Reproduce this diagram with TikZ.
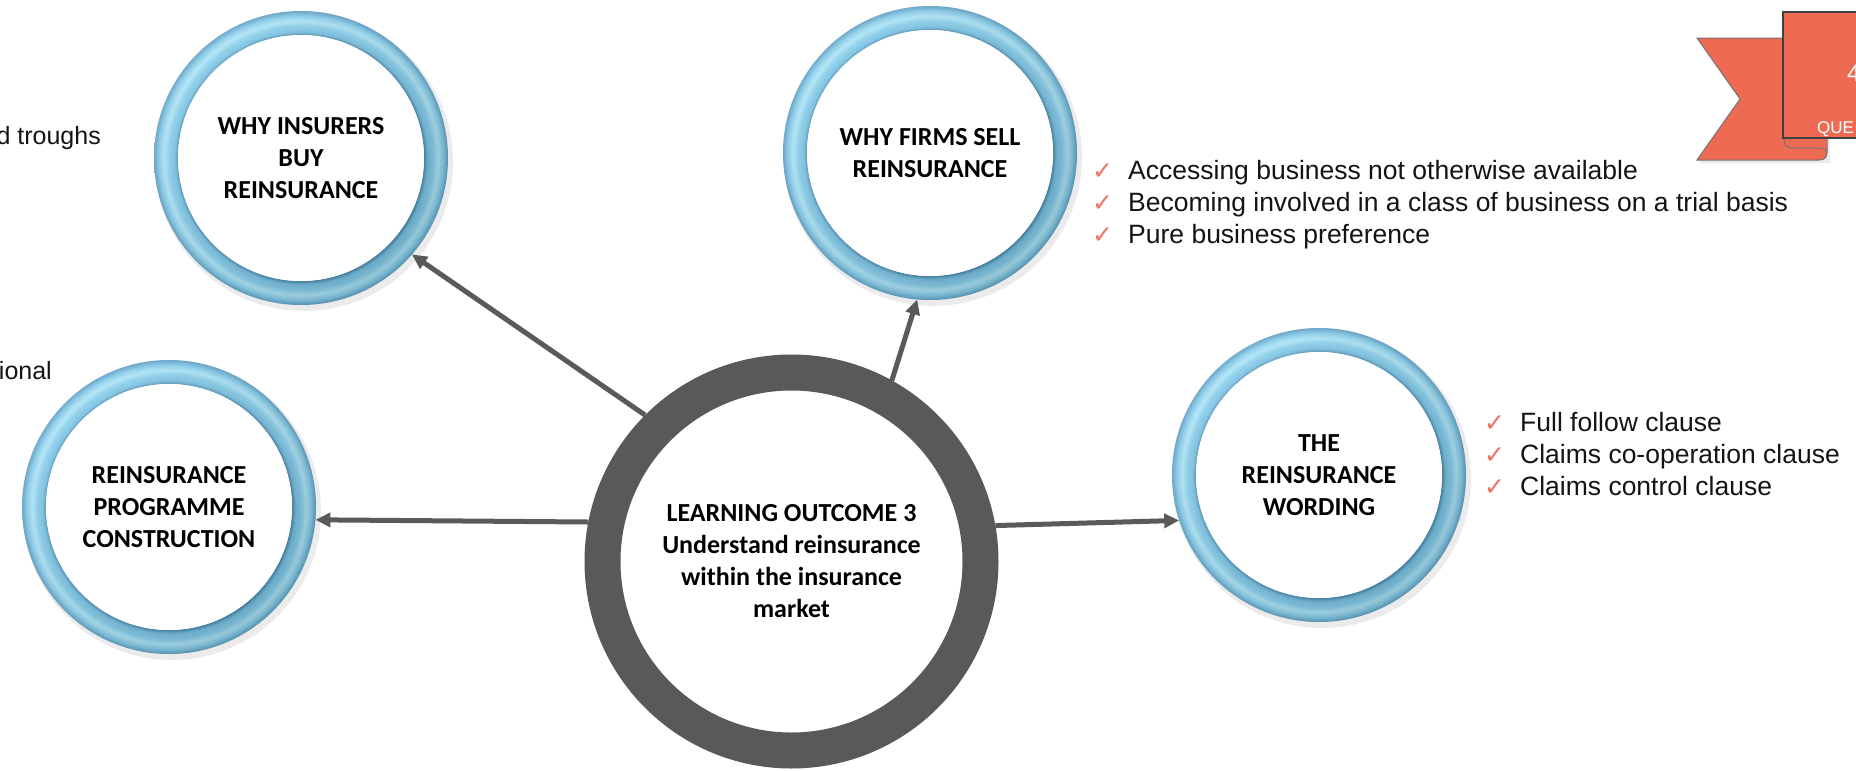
\documentclass[tikz,border=0pt]{standalone}
\usepackage{fontspec}
\setmainfont{Liberation Sans}
\newfontfamily\calibrifont{Carlito}
\newfontfamily\checkfnt{DejaVu Sans}
\usetikzlibrary{arrows.meta}
\definecolor{ringgray}{HTML}{595959}
\definecolor{arrowgray}{HTML}{5A5A5A}
\definecolor{coral}{HTML}{EE6A53}
\definecolor{checkred}{HTML}{F07264}
\definecolor{tubeD}{HTML}{4A8AB0}
\definecolor{tubeB}{HTML}{76C0E2}
\definecolor{tubeM}{HTML}{88CFEC}
\definecolor{tubeL}{HTML}{ADE5F8}
\definecolor{tubeO}{HTML}{84CBE9}
\definecolor{tubeE}{HTML}{5E9FC5}
\pgfdeclareradialshading{tube}{\pgfpoint{0bp}{0bp}}{color(0bp)=(tubeD); color(20.9bp)=(tubeD); color(21.5bp)=(tubeB); color(22.5bp)=(tubeM); color(23.3bp)=(tubeL); color(24.2bp)=(tubeO); color(25bp)=(tubeE); color(50bp)=(tubeE)}
\newcommand\tubering[1]{%
  \fill[black, opacity=0.08, even odd rule] ([shift={(3pt,-4pt)}]#1) circle (149pt) ([shift={(3pt,-4pt)}]#1) circle (124pt);
  \shade[shading=tube, even odd rule] (#1) circle (147pt) (#1) circle (123pt);
  \shade[even odd rule, fill opacity=0.13, top color=white, bottom color=black, shading angle=45] (#1) circle (147pt) (#1) circle (123pt);
  \fill[white] (#1) circle (123pt);
}
\tikzset{
  bluering/.style={circle, minimum size=294pt, inner sep=0pt, outer sep=0pt, align=center,
    font=\fontsize{26}{32}\selectfont\calibrifont\bfseries},
  hub/.style={circle, minimum size=414pt, inner sep=0pt, outer sep=0pt, align=center,
    font=\fontsize{26}{32}\selectfont\calibrifont\bfseries},
  link/.style={draw=arrowgray, line width=5pt, -{Triangle[length=15pt,width=14pt]}},
  item/.style={anchor=base west, inner sep=0pt, text=black!92, font=\fontsize{26.5}{32}\selectfont},
  tick/.style={anchor=base west, inner sep=0pt, text=checkred, font=\fontsize{25}{32}\selectfont\checkfnt},
  cut/.style={anchor=base east, inner sep=0pt, text=black!92, font=\fontsize{25}{32}\selectfont},
  ribtext/.style={anchor=base west, inner sep=0pt, text=white},
}
\begin{document}
\begin{tikzpicture}[x=1pt, y=-1pt]
\useasboundingbox (0,0) rectangle (1856,771);
\fill[white] (0,0) rectangle (1856,771);
\clip (0,0) rectangle (1856,771);

% ring centres
\coordinate (cbuy) at (301,158);
\coordinate (csell) at (930,153);
\coordinate (cprog) at (169,507);
\coordinate (cword) at (1319,475);
\coordinate (chub) at (791.5,561.5);

% rings
\tubering{cbuy}
\tubering{csell}
\tubering{cprog}
\tubering{cword}
\draw[ringgray, line width=36pt] (chub) circle (189pt);

% nodes
\node[bluering] (buy) at (cbuy) {WHY INSURERS\\BUY\\REINSURANCE};
\node[bluering] (sell) at (csell) {WHY FIRMS SELL\\REINSURANCE};
\node[bluering] (prog) at (cprog) {REINSURANCE\\PROGRAMME\\CONSTRUCTION};
\node[bluering] (word) at (cword) {THE\\REINSURANCE\\WORDING};
\node[hub] (hub) at (chub) {LEARNING OUTCOME 3\\Understand reinsurance\\within the insurance\\market};

% connectors
\draw[link] (hub.135.8) -- (buy.-41.2);
\draw[link] (hub.61.6) -- (sell.265.3);
\draw[link] (hub.169) -- (prog.-5);
\draw[link] (hub.10.6) -- (word.198);

% list next to WHY FIRMS SELL
\node[tick] (k1) at (1092,179) {✓};
\node[item] (s1) at (1128,179) {Accessing business not otherwise available};
\node[tick] (k2) at (1092,211) {✓};
\node[item] (s2) at (1128,211) {Becoming involved in a class of business on a trial basis};
\node[tick] (k3) at (1092,243) {✓};
\node[item] (s3) at (1128,243) {Pure business preference};

% list next to THE REINSURANCE WORDING
\node[tick] (k4) at (1484,431) {✓};
\node[item] (w1) at (1520,431) {Full follow clause};
\node[tick] (k5) at (1484,463) {✓};
\node[item] (w2) at (1520,463) {Claims co-operation clause};
\node[tick] (k6) at (1484,495) {✓};
\node[item] (w3) at (1520,495) {Claims control clause};

% cut-off texts at left edge
\node[cut] (c1) at (101,144) {d troughs};
\node[cut] (c2) at (52,379) {ional};

% ribbon top right
\fill[black, opacity=0.08] (1699,41) -- (1830,41) -- (1830,163) -- (1699,163) -- (1742,102) -- cycle;
\filldraw[fill=coral, draw=black!55, line width=1pt]
  (1697,38) -- (1800,38) -- (1800,138) -- (1827,138) -- (1827,152)
  .. controls (1827,158) and (1824,160) .. (1819,160) -- (1697,160) -- (1740,99) -- cycle;
\draw[black!55, line width=1pt] (1784,138) .. controls (1784,146) and (1787,148) .. (1795,148) -- (1820,148)
  .. controls (1825,148) and (1827,150) .. (1827,153);
\filldraw[fill=coral, draw=black!75, line width=2.5pt] (1783,12) rectangle (1880,138);
\node[ribtext, font=\fontsize{24}{26}\selectfont] (r1) at (1847,81) {4};
\node[ribtext, font=\fontsize{17}{20}\selectfont] (r2) at (1817,133) {QUE};
\end{tikzpicture}
\end{document}
